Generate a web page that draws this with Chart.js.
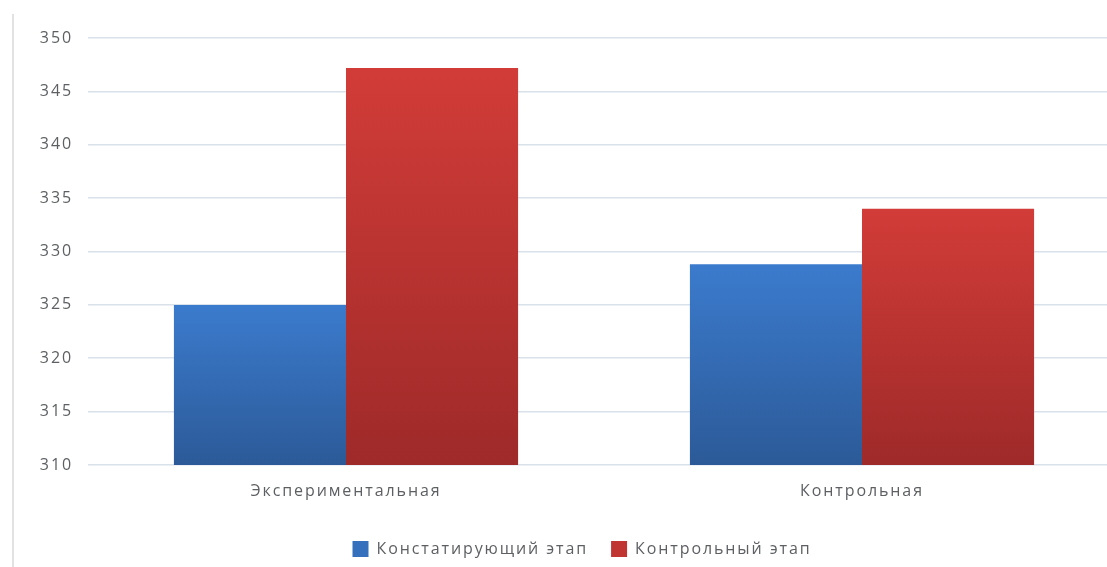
<!DOCTYPE html>
<html>
<head>
<meta charset="utf-8">
<script src="https://cdn.jsdelivr.net/npm/chart.js@4/dist/chart.umd.min.js"></script>
<style>
  html, body { margin: 0; padding: 0; background: #ffffff; overflow: hidden; width: 1107px; height: 567px; }
  #frame { position: absolute; left: 12px; top: 14px; width: 2px; height: 560px; background: #e2e2e2; }
  #wrap { position: absolute; left: 0; top: 0; width: 1120px; height: 567px; }
</style>
</head>
<body>
<div id="wrap"><canvas id="c"></canvas></div>
<div id="frame"></div>
<script>
const categories = ["Экспериментальная", "Контрольная"];
const seriesNames = ["Констатирующий этап", "Контрольный этап"];
const stage1Values = [325.0, 328.8];
const stage2Values = [347.2, 334.0];
const yTicks = [310, 315, 320, 325, 330, 335, 340, 345, 350];

const TEXT = '#5d5f62';
const FONT = "'Open Sans', 'DejaVu Sans', sans-serif";

function gradientFill(top, bottom, solid) {
  return function (ctx) {
    const chart = ctx.chart;
    const area = chart.chartArea;
    if (!area || ctx.type !== 'data') return solid;
    const y = chart.scales.y;
    const yTop = y.getPixelForValue(ctx.raw);
    const g = chart.ctx.createLinearGradient(0, yTop, 0, area.bottom);
    g.addColorStop(0, top);
    g.addColorStop(1, bottom);
    return g;
  };
}

const spacingPlugin = {
  id: 'spacing',
  beforeLayout(chart) { chart.ctx.letterSpacing = '1.9px'; },
  afterLayout(chart) {
    if (chart.legend) { chart.legend.left -= 22; chart.legend.right -= 22; }
  },
  beforeDraw(chart) { chart.ctx.letterSpacing = '1.9px'; }
};

new Chart(document.getElementById('c'), {
  type: 'bar',
  data: {
    labels: categories,
    datasets: [
      {
        label: seriesNames[0],
        data: stage1Values,
        backgroundColor: gradientFill('#3b7bcd', '#2c5a98', '#3470bb'),
        borderWidth: 0,
        categoryPercentage: 0.667,
        barPercentage: 1.0
      },
      {
        label: seriesNames[1],
        data: stage2Values,
        backgroundColor: gradientFill('#d23c38', '#9e2a29', '#c03532'),
        borderWidth: 0,
        categoryPercentage: 0.667,
        barPercentage: 1.0
      }
    ]
  },
  options: {
    responsive: true,
    maintainAspectRatio: false,
    animation: false,
    layout: { padding: { top: 38, left: 0, right: 0, bottom: 0 } },
    plugins: {
      tooltip: { enabled: false },
      legend: {
        position: 'bottom',
        fullSize: false,
        labels: {
          boxWidth: 16,
          boxHeight: 16,
          padding: 23,
          color: TEXT,
          font: { family: FONT, size: 16 },
          generateLabels(chart) {
            return chart.data.datasets.map((ds, i) => ({
              text: ds.label,
              fillStyle: i === 0 ? '#3470bb' : '#c03532',
              strokeStyle: 'rgba(0,0,0,0)',
              lineWidth: 0,
              datasetIndex: i,
              fontColor: TEXT
            }));
          }
        }
      }
    },
    scales: {
      x: {
        grid: { display: false },
        border: { display: false },
        ticks: { color: TEXT, font: { family: FONT, size: 16 }, padding: 9 },
        afterFit(scale) { scale.height = 53; }
      },
      y: {
        min: 310,
        max: 350,
        afterBuildTicks(scale) { scale.ticks = yTicks.map(v => ({ value: v })); },
        grid: { color: '#d9e1eb', lineWidth: 1.6, drawTicks: false },
        border: { display: false },
        ticks: { color: TEXT, font: { family: FONT, size: 16 }, padding: 15 },
        afterFit(scale) { scale.width = 88; }
      }
    }
  },
  plugins: [spacingPlugin]
});
</script>
</body>
</html>
